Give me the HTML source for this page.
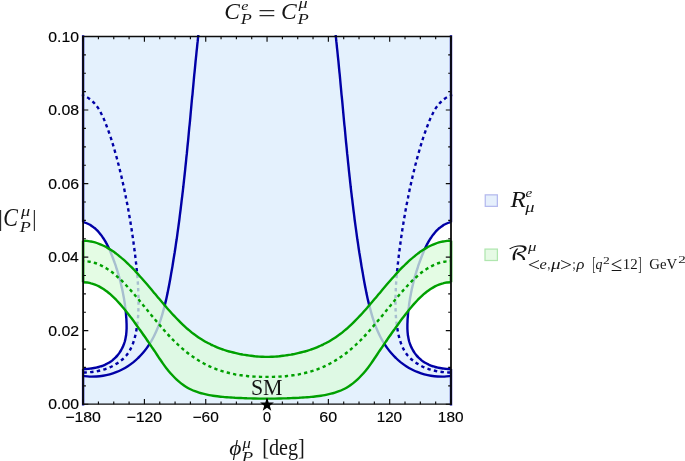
<!DOCTYPE html>
<html lang="en"><head><meta charset="utf-8"><title>Plot</title>
<style>html,body{margin:0;padding:0;background:#fff}body{width:685px;height:461px;overflow:hidden}</style></head>
<body>
<svg width="685" height="461" viewBox="0 0 685 461" style="display:block">
<rect width="685" height="461" fill="#fff"/>
<defs><clipPath id="cp"><rect x="81.6" y="35.0" width="370.9" height="370.7"/></clipPath></defs>
<rect x="83.1" y="36.5" width="367.9" height="367.7" fill="#e4f1fd"/>
<g clip-path="url(#cp)">
<path d="M83.0 222.0C83.5 222.2 85.1 222.6 86.1 223.0C87.1 223.4 88.1 223.8 89.0 224.3C90.0 224.8 90.9 225.4 91.7 225.9C92.6 226.5 93.4 227.2 94.2 227.8C95.1 228.5 95.8 229.2 96.6 229.9C97.3 230.6 98.1 231.4 98.8 232.2C99.5 233.0 100.1 233.8 100.8 234.6C101.4 235.4 102.0 236.3 102.6 237.2C103.2 238.0 103.8 238.9 104.4 239.8C104.9 240.7 105.5 241.6 106.0 242.6C106.5 243.5 107.0 244.4 107.5 245.4C108.0 246.3 108.4 247.3 108.9 248.3C109.3 249.2 109.8 250.2 110.2 251.2C110.6 252.2 111.0 253.2 111.4 254.2C111.8 255.2 112.2 256.2 112.6 257.2C113.0 258.2 113.4 259.2 113.7 260.2C114.1 261.2 114.5 262.2 114.8 263.2C115.2 264.3 115.5 265.3 115.9 266.3C116.2 267.3 116.5 268.3 116.8 269.3C117.2 270.3 117.5 271.3 117.8 272.4C118.1 273.4 118.4 274.4 118.7 275.4C119.0 276.4 119.3 277.4 119.6 278.5C119.8 279.5 120.1 280.5 120.4 281.5C120.6 282.5 120.9 283.6 121.1 284.6C121.4 285.6 121.6 286.7 121.8 287.7C122.1 288.7 122.3 289.7 122.5 290.8C122.7 291.8 122.9 292.8 123.1 293.9C123.3 294.9 123.5 296.0 123.7 297.0C123.9 298.0 124.1 299.1 124.2 300.1C124.4 301.2 124.6 302.2 124.7 303.3C124.9 304.3 125.0 305.4 125.1 306.4C125.3 307.5 125.4 308.5 125.5 309.6C125.7 310.7 125.8 311.7 125.9 312.8C126.0 313.9 126.1 314.9 126.1 316.0C126.2 317.1 126.3 318.2 126.4 319.2C126.4 320.3 126.5 321.4 126.5 322.5C126.6 323.5 126.6 324.6 126.6 325.7C126.6 326.8 126.6 327.8 126.6 328.9C126.5 330.0 126.5 331.0 126.4 332.1C126.3 333.2 126.2 334.2 126.1 335.3C125.9 336.3 125.7 337.4 125.5 338.4C125.3 339.4 125.1 340.4 124.8 341.5C124.5 342.5 124.2 343.5 123.8 344.5C123.4 345.5 123.0 346.4 122.6 347.4C122.1 348.3 121.6 349.3 121.1 350.2C120.6 351.1 120.0 352.0 119.4 352.9C118.8 353.7 118.2 354.6 117.5 355.4C116.8 356.2 116.1 357.0 115.4 357.7C114.6 358.4 113.9 359.1 113.0 359.8C112.2 360.5 111.4 361.1 110.5 361.7C109.6 362.3 108.7 362.8 107.8 363.3C106.8 363.9 105.9 364.3 104.9 364.8C103.9 365.2 102.9 365.6 101.9 366.0C100.9 366.3 99.9 366.7 98.8 367.0C97.8 367.3 96.7 367.5 95.7 367.7C94.6 368.0 93.5 368.2 92.5 368.3C91.4 368.5 90.3 368.6 89.3 368.7C88.2 368.8 87.2 368.9 86.1 369.0C85.1 369.0 83.5 369.0 83.0 369.0Z" fill="#fff"/>
<path d="M451.0 222.0C450.5 222.2 448.9 222.6 447.9 223.0C446.9 223.4 445.9 223.8 445.0 224.3C444.0 224.8 443.1 225.4 442.3 225.9C441.4 226.5 440.6 227.2 439.8 227.8C438.9 228.5 438.2 229.2 437.4 229.9C436.7 230.6 435.9 231.4 435.2 232.2C434.5 233.0 433.9 233.8 433.2 234.6C432.6 235.4 432.0 236.3 431.4 237.2C430.8 238.0 430.2 238.9 429.6 239.8C429.1 240.7 428.5 241.6 428.0 242.6C427.5 243.5 427.0 244.4 426.5 245.4C426.0 246.3 425.6 247.3 425.1 248.3C424.7 249.2 424.2 250.2 423.8 251.2C423.4 252.2 423.0 253.2 422.6 254.2C422.2 255.2 421.8 256.2 421.4 257.2C421.0 258.2 420.6 259.2 420.3 260.2C419.9 261.2 419.5 262.2 419.2 263.2C418.8 264.3 418.5 265.3 418.1 266.3C417.8 267.3 417.5 268.3 417.2 269.3C416.8 270.3 416.5 271.3 416.2 272.4C415.9 273.4 415.6 274.4 415.3 275.4C415.0 276.4 414.7 277.4 414.4 278.5C414.2 279.5 413.9 280.5 413.6 281.5C413.4 282.5 413.1 283.6 412.9 284.6C412.6 285.6 412.4 286.7 412.2 287.7C411.9 288.7 411.7 289.7 411.5 290.8C411.3 291.8 411.1 292.8 410.9 293.9C410.7 294.9 410.5 296.0 410.3 297.0C410.1 298.0 409.9 299.1 409.8 300.1C409.6 301.2 409.4 302.2 409.3 303.3C409.1 304.3 409.0 305.4 408.9 306.4C408.7 307.5 408.6 308.5 408.5 309.6C408.3 310.7 408.2 311.7 408.1 312.8C408.0 313.9 407.9 314.9 407.9 316.0C407.8 317.1 407.7 318.2 407.6 319.2C407.6 320.3 407.5 321.4 407.5 322.5C407.4 323.5 407.4 324.6 407.4 325.7C407.4 326.8 407.4 327.8 407.4 328.9C407.5 330.0 407.5 331.0 407.6 332.1C407.7 333.2 407.8 334.2 407.9 335.3C408.1 336.3 408.3 337.4 408.5 338.4C408.7 339.4 408.9 340.4 409.2 341.5C409.5 342.5 409.8 343.5 410.2 344.5C410.6 345.5 411.0 346.4 411.4 347.4C411.9 348.3 412.4 349.3 412.9 350.2C413.4 351.1 414.0 352.0 414.6 352.9C415.2 353.7 415.8 354.6 416.5 355.4C417.2 356.2 417.9 357.0 418.6 357.7C419.4 358.4 420.1 359.1 421.0 359.8C421.8 360.5 422.6 361.1 423.5 361.7C424.4 362.3 425.3 362.8 426.2 363.3C427.2 363.9 428.1 364.3 429.1 364.8C430.1 365.2 431.1 365.6 432.1 366.0C433.1 366.3 434.1 366.7 435.2 367.0C436.2 367.3 437.3 367.5 438.3 367.7C439.4 368.0 440.5 368.2 441.5 368.3C442.6 368.5 443.7 368.6 444.7 368.7C445.8 368.8 446.8 368.9 447.9 369.0C448.9 369.0 450.5 369.0 451.0 369.0Z" fill="#fff"/>
<path d="M83.0 222.0C83.5 222.2 85.1 222.6 86.1 223.0C87.1 223.4 88.1 223.8 89.0 224.3C90.0 224.8 90.9 225.4 91.7 225.9C92.6 226.5 93.4 227.2 94.2 227.8C95.1 228.5 95.8 229.2 96.6 229.9C97.3 230.6 98.1 231.4 98.8 232.2C99.5 233.0 100.1 233.8 100.8 234.6C101.4 235.4 102.0 236.3 102.6 237.2C103.2 238.0 103.8 238.9 104.4 239.8C104.9 240.7 105.5 241.6 106.0 242.6C106.5 243.5 107.0 244.4 107.5 245.4C108.0 246.3 108.4 247.3 108.9 248.3C109.3 249.2 109.8 250.2 110.2 251.2C110.6 252.2 111.0 253.2 111.4 254.2C111.8 255.2 112.2 256.2 112.6 257.2C113.0 258.2 113.4 259.2 113.7 260.2C114.1 261.2 114.5 262.2 114.8 263.2C115.2 264.3 115.5 265.3 115.9 266.3C116.2 267.3 116.5 268.3 116.8 269.3C117.2 270.3 117.5 271.3 117.8 272.4C118.1 273.4 118.4 274.4 118.7 275.4C119.0 276.4 119.3 277.4 119.6 278.5C119.8 279.5 120.1 280.5 120.4 281.5C120.6 282.5 120.9 283.6 121.1 284.6C121.4 285.6 121.6 286.7 121.8 287.7C122.1 288.7 122.3 289.7 122.5 290.8C122.7 291.8 122.9 292.8 123.1 293.9C123.3 294.9 123.5 296.0 123.7 297.0C123.9 298.0 124.1 299.1 124.2 300.1C124.4 301.2 124.6 302.2 124.7 303.3C124.9 304.3 125.0 305.4 125.1 306.4C125.3 307.5 125.4 308.5 125.5 309.6C125.7 310.7 125.8 311.7 125.9 312.8C126.0 313.9 126.1 314.9 126.1 316.0C126.2 317.1 126.3 318.2 126.4 319.2C126.4 320.3 126.5 321.4 126.5 322.5C126.6 323.5 126.6 324.6 126.6 325.7C126.6 326.8 126.6 327.8 126.6 328.9C126.5 330.0 126.5 331.0 126.4 332.1C126.3 333.2 126.2 334.2 126.1 335.3C125.9 336.3 125.7 337.4 125.5 338.4C125.3 339.4 125.1 340.4 124.8 341.5C124.5 342.5 124.2 343.5 123.8 344.5C123.4 345.5 123.0 346.4 122.6 347.4C122.1 348.3 121.6 349.3 121.1 350.2C120.6 351.1 120.0 352.0 119.4 352.9C118.8 353.7 118.2 354.6 117.5 355.4C116.8 356.2 116.1 357.0 115.4 357.7C114.6 358.4 113.9 359.1 113.0 359.8C112.2 360.5 111.4 361.1 110.5 361.7C109.6 362.3 108.7 362.8 107.8 363.3C106.8 363.9 105.9 364.3 104.9 364.8C103.9 365.2 102.9 365.6 101.9 366.0C100.9 366.3 99.9 366.7 98.8 367.0C97.8 367.3 96.7 367.5 95.7 367.7C94.6 368.0 93.5 368.2 92.5 368.3C91.4 368.5 90.3 368.6 89.3 368.7C88.2 368.8 87.2 368.9 86.1 369.0C85.1 369.0 83.5 369.0 83.0 369.0" fill="none" stroke="#0000a6" stroke-width="2.4"/>
<path d="M451.0 222.0C450.5 222.2 448.9 222.6 447.9 223.0C446.9 223.4 445.9 223.8 445.0 224.3C444.0 224.8 443.1 225.4 442.3 225.9C441.4 226.5 440.6 227.2 439.8 227.8C438.9 228.5 438.2 229.2 437.4 229.9C436.7 230.6 435.9 231.4 435.2 232.2C434.5 233.0 433.9 233.8 433.2 234.6C432.6 235.4 432.0 236.3 431.4 237.2C430.8 238.0 430.2 238.9 429.6 239.8C429.1 240.7 428.5 241.6 428.0 242.6C427.5 243.5 427.0 244.4 426.5 245.4C426.0 246.3 425.6 247.3 425.1 248.3C424.7 249.2 424.2 250.2 423.8 251.2C423.4 252.2 423.0 253.2 422.6 254.2C422.2 255.2 421.8 256.2 421.4 257.2C421.0 258.2 420.6 259.2 420.3 260.2C419.9 261.2 419.5 262.2 419.2 263.2C418.8 264.3 418.5 265.3 418.1 266.3C417.8 267.3 417.5 268.3 417.2 269.3C416.8 270.3 416.5 271.3 416.2 272.4C415.9 273.4 415.6 274.4 415.3 275.4C415.0 276.4 414.7 277.4 414.4 278.5C414.2 279.5 413.9 280.5 413.6 281.5C413.4 282.5 413.1 283.6 412.9 284.6C412.6 285.6 412.4 286.7 412.2 287.7C411.9 288.7 411.7 289.7 411.5 290.8C411.3 291.8 411.1 292.8 410.9 293.9C410.7 294.9 410.5 296.0 410.3 297.0C410.1 298.0 409.9 299.1 409.8 300.1C409.6 301.2 409.4 302.2 409.3 303.3C409.1 304.3 409.0 305.4 408.9 306.4C408.7 307.5 408.6 308.5 408.5 309.6C408.3 310.7 408.2 311.7 408.1 312.8C408.0 313.9 407.9 314.9 407.9 316.0C407.8 317.1 407.7 318.2 407.6 319.2C407.6 320.3 407.5 321.4 407.5 322.5C407.4 323.5 407.4 324.6 407.4 325.7C407.4 326.8 407.4 327.8 407.4 328.9C407.5 330.0 407.5 331.0 407.6 332.1C407.7 333.2 407.8 334.2 407.9 335.3C408.1 336.3 408.3 337.4 408.5 338.4C408.7 339.4 408.9 340.4 409.2 341.5C409.5 342.5 409.8 343.5 410.2 344.5C410.6 345.5 411.0 346.4 411.4 347.4C411.9 348.3 412.4 349.3 412.9 350.2C413.4 351.1 414.0 352.0 414.6 352.9C415.2 353.7 415.8 354.6 416.5 355.4C417.2 356.2 417.9 357.0 418.6 357.7C419.4 358.4 420.1 359.1 421.0 359.8C421.8 360.5 422.6 361.1 423.5 361.7C424.4 362.3 425.3 362.8 426.2 363.3C427.2 363.9 428.1 364.3 429.1 364.8C430.1 365.2 431.1 365.6 432.1 366.0C433.1 366.3 434.1 366.7 435.2 367.0C436.2 367.3 437.3 367.5 438.3 367.7C439.4 368.0 440.5 368.2 441.5 368.3C442.6 368.5 443.7 368.6 444.7 368.7C445.8 368.8 446.8 368.9 447.9 369.0C448.9 369.0 450.5 369.0 451.0 369.0" fill="none" stroke="#0000a6" stroke-width="2.4"/>
<path d="M198.4 34.6C198.2 35.7 197.9 39.0 197.7 41.2C197.4 43.4 197.2 45.6 197.0 47.8C196.7 50.1 196.5 52.3 196.3 54.5C196.1 56.7 195.8 58.9 195.6 61.1C195.4 63.3 195.2 65.5 195.0 67.7C194.8 69.9 194.6 72.2 194.3 74.4C194.1 76.6 193.9 78.8 193.7 81.0C193.5 83.2 193.3 85.4 193.1 87.6C192.9 89.8 192.7 92.1 192.5 94.3C192.2 96.5 192.0 98.7 191.8 100.9C191.6 103.1 191.4 105.3 191.2 107.5C191.0 109.7 190.8 111.9 190.6 114.2C190.4 116.4 190.2 118.6 190.0 120.8C189.8 123.0 189.6 125.2 189.3 127.4C189.1 129.6 188.9 131.8 188.7 134.0C188.5 136.2 188.3 138.5 188.1 140.7C187.9 142.9 187.6 145.1 187.4 147.3C187.2 149.5 187.0 151.7 186.8 153.9C186.5 156.1 186.3 158.3 186.1 160.5C185.9 162.7 185.6 164.9 185.4 167.1C185.2 169.4 185.0 171.6 184.7 173.8C184.5 176.0 184.2 178.2 184.0 180.4C183.8 182.6 183.5 184.8 183.3 187.0C183.0 189.2 182.8 191.4 182.5 193.6C182.3 195.8 182.0 198.0 181.7 200.2C181.5 202.4 181.2 204.6 180.9 206.8C180.7 209.0 180.4 211.2 180.1 213.4C179.8 215.6 179.6 217.8 179.3 220.0C179.0 222.2 178.7 224.4 178.4 226.6C178.1 228.8 177.8 231.0 177.5 233.2C177.2 235.4 176.9 237.6 176.6 239.8C176.2 242.0 175.9 244.2 175.6 246.4C175.3 248.6 174.9 250.8 174.6 253.0C174.2 255.1 173.9 257.3 173.5 259.5C173.2 261.7 172.8 263.9 172.5 266.1C172.1 268.3 171.7 270.5 171.3 272.7C171.0 274.9 170.6 277.1 170.2 279.2C169.8 281.4 169.4 283.6 169.0 285.8C168.6 288.0 168.1 290.2 167.7 292.4C167.2 294.5 166.8 296.7 166.3 298.9C165.8 301.0 165.3 303.2 164.7 305.4C164.2 307.5 163.6 309.7 163.0 311.8C162.4 314.0 161.8 316.1 161.1 318.3C160.4 320.4 159.7 322.5 159.0 324.6C158.2 326.7 157.4 328.7 156.5 330.8C155.6 332.8 154.7 334.8 153.7 336.8C152.7 338.8 151.6 340.7 150.4 342.6C149.3 344.5 148.0 346.3 146.7 348.1C145.4 349.9 144.1 351.6 142.6 353.3C141.2 354.9 139.7 356.5 138.1 358.0C136.5 359.6 134.9 361.0 133.2 362.4C131.5 363.7 129.7 365.0 127.8 366.2C126.0 367.4 124.1 368.5 122.1 369.5C120.1 370.5 118.1 371.4 116.1 372.2C114.0 373.0 111.9 373.7 109.7 374.3C107.6 374.9 105.4 375.4 103.1 375.7C100.9 376.1 98.7 376.4 96.4 376.5C94.2 376.6 91.9 376.7 89.6 376.6C87.3 376.5 83.9 376.0 82.7 375.9" fill="none" stroke="#0000a6" stroke-width="2.4"/>
<path d="M335.6 34.6C335.8 35.7 336.1 39.0 336.3 41.2C336.6 43.4 336.8 45.6 337.0 47.8C337.3 50.1 337.5 52.3 337.7 54.5C337.9 56.7 338.2 58.9 338.4 61.1C338.6 63.3 338.8 65.5 339.0 67.7C339.2 69.9 339.4 72.2 339.7 74.4C339.9 76.6 340.1 78.8 340.3 81.0C340.5 83.2 340.7 85.4 340.9 87.6C341.1 89.8 341.3 92.1 341.5 94.3C341.8 96.5 342.0 98.7 342.2 100.9C342.4 103.1 342.6 105.3 342.8 107.5C343.0 109.7 343.2 111.9 343.4 114.2C343.6 116.4 343.8 118.6 344.0 120.8C344.2 123.0 344.4 125.2 344.7 127.4C344.9 129.6 345.1 131.8 345.3 134.0C345.5 136.2 345.7 138.5 345.9 140.7C346.1 142.9 346.4 145.1 346.6 147.3C346.8 149.5 347.0 151.7 347.2 153.9C347.5 156.1 347.7 158.3 347.9 160.5C348.1 162.7 348.4 164.9 348.6 167.1C348.8 169.4 349.0 171.6 349.3 173.8C349.5 176.0 349.8 178.2 350.0 180.4C350.2 182.6 350.5 184.8 350.7 187.0C351.0 189.2 351.2 191.4 351.5 193.6C351.7 195.8 352.0 198.0 352.3 200.2C352.5 202.4 352.8 204.6 353.1 206.8C353.3 209.0 353.6 211.2 353.9 213.4C354.2 215.6 354.4 217.8 354.7 220.0C355.0 222.2 355.3 224.4 355.6 226.6C355.9 228.8 356.2 231.0 356.5 233.2C356.8 235.4 357.1 237.6 357.4 239.8C357.8 242.0 358.1 244.2 358.4 246.4C358.7 248.6 359.1 250.8 359.4 253.0C359.8 255.1 360.1 257.3 360.5 259.5C360.8 261.7 361.2 263.9 361.5 266.1C361.9 268.3 362.3 270.5 362.7 272.7C363.0 274.9 363.4 277.1 363.8 279.2C364.2 281.4 364.6 283.6 365.0 285.8C365.4 288.0 365.9 290.2 366.3 292.4C366.8 294.5 367.2 296.7 367.7 298.9C368.2 301.0 368.7 303.2 369.3 305.4C369.8 307.5 370.4 309.7 371.0 311.8C371.6 314.0 372.2 316.1 372.9 318.3C373.6 320.4 374.3 322.5 375.0 324.6C375.8 326.7 376.6 328.7 377.5 330.8C378.4 332.8 379.3 334.8 380.3 336.8C381.3 338.8 382.4 340.7 383.6 342.6C384.7 344.5 386.0 346.3 387.3 348.1C388.6 349.9 389.9 351.6 391.4 353.3C392.8 354.9 394.3 356.5 395.9 358.0C397.5 359.6 399.1 361.0 400.8 362.4C402.5 363.7 404.3 365.0 406.2 366.2C408.0 367.4 409.9 368.5 411.9 369.5C413.9 370.5 415.9 371.4 417.9 372.2C420.0 373.0 422.1 373.7 424.3 374.3C426.4 374.9 428.6 375.4 430.9 375.7C433.1 376.1 435.3 376.4 437.6 376.5C439.8 376.6 442.1 376.7 444.4 376.6C446.7 376.5 450.1 376.0 451.3 375.9" fill="none" stroke="#0000a6" stroke-width="2.4"/>
<path d="M81.6 94.9C82.2 95.1 84.3 95.9 85.6 96.5C86.8 97.1 88.0 97.8 89.1 98.6C90.3 99.3 91.3 100.2 92.3 101.1C93.3 102.0 94.2 102.9 95.1 104.0C95.9 105.0 96.7 106.0 97.5 107.1C98.3 108.2 99.0 109.4 99.7 110.6C100.4 111.8 101.0 113.0 101.6 114.2C102.3 115.5 102.8 116.7 103.4 118.0C104.0 119.3 104.5 120.6 105.0 121.9C105.5 123.2 106.0 124.5 106.5 125.8C107.0 127.1 107.5 128.4 108.0 129.7C108.5 131.0 108.9 132.3 109.4 133.6C109.8 134.9 110.3 136.2 110.7 137.5C111.1 138.8 111.6 140.2 112.0 141.5C112.4 142.8 112.8 144.1 113.2 145.4C113.6 146.7 114.0 148.0 114.4 149.4C114.7 150.7 115.1 152.0 115.5 153.3C115.9 154.6 116.2 155.9 116.6 157.3C116.9 158.6 117.3 159.9 117.6 161.2C118.0 162.6 118.3 163.9 118.7 165.2C119.0 166.5 119.3 167.9 119.7 169.2C120.0 170.5 120.3 171.9 120.6 173.2C121.0 174.5 121.3 175.9 121.6 177.2C121.9 178.6 122.2 179.9 122.5 181.2C122.8 182.6 123.1 183.9 123.4 185.3C123.7 186.6 124.0 188.0 124.3 189.3C124.6 190.7 124.8 192.0 125.1 193.3C125.4 194.7 125.7 196.0 125.9 197.4C126.2 198.8 126.5 200.1 126.7 201.5C127.0 202.8 127.3 204.2 127.5 205.5C127.8 206.9 128.0 208.2 128.3 209.6C128.5 210.9 128.8 212.3 129.0 213.7C129.2 215.0 129.5 216.4 129.7 217.7C129.9 219.1 130.2 220.5 130.4 221.8C130.6 223.2 130.8 224.5 131.0 225.9C131.3 227.3 131.5 228.6 131.7 230.0C131.9 231.4 132.1 232.7 132.3 234.1C132.5 235.5 132.7 236.8 132.9 238.2C133.1 239.5 133.3 240.9 133.5 242.3C133.6 243.6 133.8 245.0 134.0 246.4C134.2 247.7 134.4 249.1 134.5 250.5C134.7 251.8 134.9 253.2 135.1 254.6C135.2 255.9 135.4 257.3 135.6 258.7C135.7 260.0 135.9 261.4 136.0 262.7C136.2 264.1 136.3 265.5 136.5 266.8C136.6 268.2 136.7 269.6 136.9 270.9C137.0 272.3 137.1 273.7 137.2 275.0C137.4 276.4 137.5 277.8 137.6 279.1C137.7 280.5 137.8 281.9 137.9 283.3C137.9 284.6 138.0 286.0 138.1 287.4C138.2 288.7 138.2 290.1 138.3 291.5C138.4 292.9 138.4 294.2 138.4 295.6C138.5 297.0 138.5 298.4 138.5 299.8C138.5 301.1 138.5 302.5 138.5 303.9C138.5 305.3 138.5 306.7 138.5 308.0C138.4 309.4 138.4 310.8 138.3 312.2C138.3 313.6 138.2 314.9 138.1 316.3C138.0 317.7 137.9 319.1 137.7 320.4C137.6 321.8 137.4 323.2 137.3 324.5C137.1 325.9 136.9 327.3 136.7 328.6C136.4 330.0 136.2 331.4 135.9 332.7C135.6 334.1 135.4 335.4 135.0 336.7C134.7 338.1 134.3 339.4 133.9 340.7C133.5 342.0 133.1 343.3 132.6 344.6C132.1 345.9 131.5 347.1 130.9 348.3C130.3 349.6 129.7 350.7 128.9 351.9C128.2 353.0 127.4 354.1 126.5 355.2C125.6 356.2 124.7 357.2 123.7 358.2C122.7 359.2 121.6 360.1 120.5 360.9C119.4 361.8 118.3 362.6 117.1 363.4C115.9 364.1 114.7 364.8 113.5 365.5C112.3 366.2 111.0 366.8 109.8 367.3C108.5 367.9 107.2 368.4 105.9 368.8C104.7 369.3 103.3 369.7 102.0 370.0C100.7 370.4 99.4 370.7 98.0 371.0C96.7 371.2 95.3 371.5 94.0 371.7C92.6 371.9 91.2 372.0 89.9 372.2C88.5 372.3 87.1 372.4 85.7 372.5C84.4 372.5 82.3 372.6 81.6 372.6" fill="none" stroke="#0000a6" stroke-width="2.4" stroke-dasharray="3.4 3.3" stroke-dashoffset="0.7"/>
<path d="M452.4 94.9C451.8 95.1 449.7 95.9 448.4 96.5C447.2 97.1 446.0 97.8 444.9 98.6C443.7 99.3 442.7 100.2 441.7 101.1C440.7 102.0 439.8 102.9 438.9 104.0C438.1 105.0 437.3 106.0 436.5 107.1C435.7 108.2 435.0 109.4 434.3 110.6C433.6 111.8 433.0 113.0 432.4 114.2C431.7 115.5 431.2 116.7 430.6 118.0C430.0 119.3 429.5 120.6 429.0 121.9C428.5 123.2 428.0 124.5 427.5 125.8C427.0 127.1 426.5 128.4 426.0 129.7C425.5 131.0 425.1 132.3 424.6 133.6C424.2 134.9 423.7 136.2 423.3 137.5C422.9 138.8 422.4 140.2 422.0 141.5C421.6 142.8 421.2 144.1 420.8 145.4C420.4 146.7 420.0 148.0 419.6 149.4C419.3 150.7 418.9 152.0 418.5 153.3C418.1 154.6 417.8 155.9 417.4 157.3C417.1 158.6 416.7 159.9 416.4 161.2C416.0 162.6 415.7 163.9 415.3 165.2C415.0 166.5 414.7 167.9 414.3 169.2C414.0 170.5 413.7 171.9 413.4 173.2C413.0 174.5 412.7 175.9 412.4 177.2C412.1 178.6 411.8 179.9 411.5 181.2C411.2 182.6 410.9 183.9 410.6 185.3C410.3 186.6 410.0 188.0 409.7 189.3C409.4 190.7 409.2 192.0 408.9 193.3C408.6 194.7 408.3 196.0 408.1 197.4C407.8 198.8 407.5 200.1 407.3 201.5C407.0 202.8 406.7 204.2 406.5 205.5C406.2 206.9 406.0 208.2 405.7 209.6C405.5 210.9 405.2 212.3 405.0 213.7C404.8 215.0 404.5 216.4 404.3 217.7C404.1 219.1 403.8 220.5 403.6 221.8C403.4 223.2 403.2 224.5 403.0 225.9C402.7 227.3 402.5 228.6 402.3 230.0C402.1 231.4 401.9 232.7 401.7 234.1C401.5 235.5 401.3 236.8 401.1 238.2C400.9 239.5 400.7 240.9 400.5 242.3C400.4 243.6 400.2 245.0 400.0 246.4C399.8 247.7 399.6 249.1 399.5 250.5C399.3 251.8 399.1 253.2 398.9 254.6C398.8 255.9 398.6 257.3 398.4 258.7C398.3 260.0 398.1 261.4 398.0 262.7C397.8 264.1 397.7 265.5 397.5 266.8C397.4 268.2 397.3 269.6 397.1 270.9C397.0 272.3 396.9 273.7 396.8 275.0C396.6 276.4 396.5 277.8 396.4 279.1C396.3 280.5 396.2 281.9 396.1 283.3C396.1 284.6 396.0 286.0 395.9 287.4C395.8 288.7 395.8 290.1 395.7 291.5C395.6 292.9 395.6 294.2 395.6 295.6C395.5 297.0 395.5 298.4 395.5 299.8C395.5 301.1 395.5 302.5 395.5 303.9C395.5 305.3 395.5 306.7 395.5 308.0C395.6 309.4 395.6 310.8 395.7 312.2C395.7 313.6 395.8 314.9 395.9 316.3C396.0 317.7 396.1 319.1 396.3 320.4C396.4 321.8 396.6 323.2 396.7 324.5C396.9 325.9 397.1 327.3 397.3 328.6C397.6 330.0 397.8 331.4 398.1 332.7C398.4 334.1 398.6 335.4 399.0 336.7C399.3 338.1 399.7 339.4 400.1 340.7C400.5 342.0 400.9 343.3 401.4 344.6C401.9 345.9 402.5 347.1 403.1 348.3C403.7 349.6 404.3 350.7 405.1 351.9C405.8 353.0 406.6 354.1 407.5 355.2C408.4 356.2 409.3 357.2 410.3 358.2C411.3 359.2 412.4 360.1 413.5 360.9C414.6 361.8 415.7 362.6 416.9 363.4C418.1 364.1 419.3 364.8 420.5 365.5C421.7 366.2 423.0 366.8 424.2 367.3C425.5 367.9 426.8 368.4 428.1 368.8C429.3 369.3 430.7 369.7 432.0 370.0C433.3 370.4 434.6 370.7 436.0 371.0C437.3 371.2 438.7 371.5 440.0 371.7C441.4 371.9 442.8 372.0 444.1 372.2C445.5 372.3 446.9 372.4 448.3 372.5C449.6 372.5 451.7 372.6 452.4 372.6" fill="none" stroke="#0000a6" stroke-width="2.4" stroke-dasharray="3.4 3.3" stroke-dashoffset="0.7"/>
<path d="M83.0 240.8C83.7 240.8 85.7 240.8 87.0 240.9C88.3 241.1 89.7 241.2 91.0 241.5C92.3 241.8 93.7 242.1 95.0 242.4C96.3 242.8 97.7 243.3 99.0 243.8C100.3 244.3 101.7 244.9 103.0 245.5C104.3 246.1 105.7 246.8 107.0 247.6C108.3 248.3 109.7 249.1 111.0 250.0C112.3 250.9 113.7 251.8 115.0 252.7C116.3 253.7 117.7 254.7 119.0 255.8C120.3 256.9 121.7 258.0 123.0 259.2C124.3 260.3 125.7 261.5 127.0 262.8C128.3 264.1 129.7 265.4 131.0 266.7C132.3 268.0 133.7 269.4 135.0 270.8C136.3 272.2 137.7 273.7 139.0 275.2C140.3 276.7 141.7 278.2 143.0 279.7C144.3 281.2 145.7 282.8 147.0 284.3C148.3 285.9 149.7 287.5 151.0 289.0C152.3 290.6 153.7 292.2 155.0 293.8C156.3 295.4 157.7 297.0 159.0 298.6C160.3 300.2 161.7 301.8 163.0 303.3C164.3 304.9 165.7 306.4 167.0 308.0C168.3 309.5 169.7 311.0 171.0 312.5C172.3 314.0 173.7 315.4 175.0 316.8C176.3 318.2 177.7 319.6 179.0 320.9C180.3 322.3 181.7 323.6 183.0 324.8C184.3 326.1 185.7 327.3 187.0 328.5C188.3 329.6 189.7 330.7 191.0 331.8C192.3 332.9 193.7 333.9 195.0 334.9C196.3 335.9 197.7 336.8 199.0 337.7C200.3 338.6 201.7 339.4 203.0 340.2C204.3 341.0 205.7 341.8 207.0 342.5C208.3 343.2 209.7 343.9 211.0 344.6C212.3 345.2 213.7 345.8 215.0 346.4C216.3 347.0 217.7 347.6 219.0 348.1C220.3 348.6 221.7 349.1 223.0 349.5C224.3 350.0 225.7 350.4 227.0 350.8C228.3 351.2 229.7 351.6 231.0 351.9C232.3 352.3 233.7 352.6 235.0 352.9C236.3 353.2 237.7 353.5 239.0 353.8C240.3 354.1 241.7 354.3 243.0 354.6C244.3 354.8 245.7 355.0 247.0 355.2C248.3 355.5 249.7 355.6 251.0 355.8C252.3 356.0 253.7 356.1 255.0 356.3C256.3 356.4 257.7 356.5 259.0 356.6C260.3 356.7 261.7 356.8 263.0 356.8C264.3 356.8 265.7 356.9 267.0 356.9C268.3 356.9 269.7 356.8 271.0 356.8C272.3 356.8 273.7 356.7 275.0 356.6C276.3 356.5 277.7 356.4 279.0 356.3C280.3 356.1 281.7 356.0 283.0 355.8C284.3 355.6 285.7 355.5 287.0 355.2C288.3 355.0 289.7 354.8 291.0 354.6C292.3 354.3 293.7 354.1 295.0 353.8C296.3 353.5 297.7 353.2 299.0 352.9C300.3 352.6 301.7 352.3 303.0 351.9C304.3 351.6 305.7 351.2 307.0 350.8C308.3 350.4 309.7 350.0 311.0 349.5C312.3 349.1 313.7 348.6 315.0 348.1C316.3 347.6 317.7 347.0 319.0 346.4C320.3 345.8 321.7 345.2 323.0 344.6C324.3 343.9 325.7 343.2 327.0 342.5C328.3 341.8 329.7 341.0 331.0 340.2C332.3 339.4 333.7 338.6 335.0 337.7C336.3 336.8 337.7 335.9 339.0 334.9C340.3 333.9 341.7 332.9 343.0 331.8C344.3 330.7 345.7 329.6 347.0 328.5C348.3 327.3 349.7 326.1 351.0 324.8C352.3 323.6 353.7 322.3 355.0 320.9C356.3 319.6 357.7 318.2 359.0 316.8C360.3 315.4 361.7 314.0 363.0 312.5C364.3 311.0 365.7 309.5 367.0 308.0C368.3 306.4 369.7 304.9 371.0 303.3C372.3 301.8 373.7 300.2 375.0 298.6C376.3 297.0 377.7 295.4 379.0 293.8C380.3 292.2 381.7 290.6 383.0 289.0C384.3 287.5 385.7 285.9 387.0 284.3C388.3 282.8 389.7 281.2 391.0 279.7C392.3 278.2 393.7 276.7 395.0 275.2C396.3 273.7 397.7 272.2 399.0 270.8C400.3 269.4 401.7 268.0 403.0 266.7C404.3 265.4 405.7 264.1 407.0 262.8C408.3 261.5 409.7 260.3 411.0 259.2C412.3 258.0 413.7 256.9 415.0 255.8C416.3 254.7 417.7 253.7 419.0 252.7C420.3 251.8 421.7 250.9 423.0 250.0C424.3 249.1 425.7 248.3 427.0 247.6C428.3 246.8 429.7 246.1 431.0 245.5C432.3 244.9 433.7 244.3 435.0 243.8C436.3 243.3 437.7 242.8 439.0 242.4C440.3 242.1 441.7 241.8 443.0 241.5C444.3 241.2 445.7 241.1 447.0 240.9C448.3 240.8 450.3 240.8 451.0 240.8L451.0 282.3C450.3 282.3 448.3 282.3 447.0 282.5C445.7 282.7 444.3 282.9 443.0 283.3C441.7 283.6 440.3 284.1 439.0 284.6C437.7 285.1 436.3 285.7 435.0 286.4C433.7 287.1 432.3 287.9 431.0 288.7C429.7 289.6 428.3 290.5 427.0 291.5C425.7 292.5 424.3 293.7 423.0 294.8C421.7 296.0 420.3 297.3 419.0 298.6C417.7 300.0 416.3 301.4 415.0 302.9C413.7 304.3 412.3 305.9 411.0 307.5C409.7 309.0 408.3 310.7 407.0 312.4C405.7 314.1 404.3 315.8 403.0 317.6C401.7 319.3 400.3 321.2 399.0 323.0C397.7 324.8 396.3 326.7 395.0 328.6C393.7 330.4 392.3 332.3 391.0 334.2C389.7 336.1 388.3 338.0 387.0 340.0C385.7 341.9 384.3 343.8 383.0 345.8C381.7 347.8 380.3 349.7 379.0 351.7C377.7 353.7 376.3 355.8 375.0 357.8C373.7 359.7 372.3 361.8 371.0 363.6C369.7 365.5 368.3 367.3 367.0 369.0C365.7 370.7 364.3 372.3 363.0 373.8C361.7 375.3 360.3 376.7 359.0 378.0C357.7 379.4 356.3 380.6 355.0 381.7C353.7 382.8 352.3 383.9 351.0 384.8C349.7 385.8 348.3 386.6 347.0 387.4C345.7 388.2 344.3 388.9 343.0 389.5C341.7 390.1 340.3 390.7 339.0 391.2C337.7 391.7 336.3 392.2 335.0 392.6C333.7 393.0 332.3 393.4 331.0 393.7C329.7 394.0 328.3 394.3 327.0 394.6C325.7 394.9 324.3 395.2 323.0 395.4C321.7 395.6 320.3 395.8 319.0 396.0C317.7 396.2 316.3 396.4 315.0 396.5C313.7 396.7 312.3 396.8 311.0 396.9C309.7 397.1 308.3 397.2 307.0 397.3C305.7 397.4 304.3 397.4 303.0 397.5C301.7 397.6 300.3 397.7 299.0 397.8C297.7 397.8 296.3 397.9 295.0 398.0C293.7 398.0 292.3 398.1 291.0 398.1C289.7 398.2 288.3 398.2 287.0 398.3C285.7 398.3 284.3 398.4 283.0 398.4C281.7 398.4 280.3 398.5 279.0 398.5C277.7 398.5 276.3 398.5 275.0 398.6C273.7 398.6 272.3 398.6 271.0 398.6C269.7 398.6 268.3 398.6 267.0 398.6C265.7 398.6 264.3 398.6 263.0 398.6C261.7 398.6 260.3 398.6 259.0 398.6C257.7 398.5 256.3 398.5 255.0 398.5C253.7 398.5 252.3 398.4 251.0 398.4C249.7 398.4 248.3 398.3 247.0 398.3C245.7 398.2 244.3 398.2 243.0 398.1C241.7 398.1 240.3 398.0 239.0 398.0C237.7 397.9 236.3 397.8 235.0 397.8C233.7 397.7 232.3 397.6 231.0 397.5C229.7 397.4 228.3 397.4 227.0 397.3C225.7 397.2 224.3 397.1 223.0 396.9C221.7 396.8 220.3 396.7 219.0 396.5C217.7 396.4 216.3 396.2 215.0 396.0C213.7 395.8 212.3 395.6 211.0 395.4C209.7 395.2 208.3 394.9 207.0 394.6C205.7 394.3 204.3 394.0 203.0 393.7C201.7 393.4 200.3 393.0 199.0 392.6C197.7 392.2 196.3 391.7 195.0 391.2C193.7 390.7 192.3 390.1 191.0 389.5C189.7 388.9 188.3 388.2 187.0 387.4C185.7 386.6 184.3 385.8 183.0 384.8C181.7 383.9 180.3 382.8 179.0 381.7C177.7 380.6 176.3 379.4 175.0 378.0C173.7 376.7 172.3 375.3 171.0 373.8C169.7 372.3 168.3 370.7 167.0 369.0C165.7 367.3 164.3 365.5 163.0 363.6C161.7 361.8 160.3 359.7 159.0 357.8C157.7 355.8 156.3 353.7 155.0 351.7C153.7 349.7 152.3 347.8 151.0 345.8C149.7 343.8 148.3 341.9 147.0 340.0C145.7 338.0 144.3 336.1 143.0 334.2C141.7 332.3 140.3 330.4 139.0 328.6C137.7 326.7 136.3 324.8 135.0 323.0C133.7 321.2 132.3 319.3 131.0 317.6C129.7 315.8 128.3 314.1 127.0 312.4C125.7 310.7 124.3 309.0 123.0 307.5C121.7 305.9 120.3 304.3 119.0 302.9C117.7 301.4 116.3 300.0 115.0 298.6C113.7 297.3 112.3 296.0 111.0 294.8C109.7 293.7 108.3 292.5 107.0 291.5C105.7 290.5 104.3 289.6 103.0 288.7C101.7 287.9 100.3 287.1 99.0 286.4C97.7 285.7 96.3 285.1 95.0 284.6C93.7 284.1 92.3 283.6 91.0 283.3C89.7 282.9 88.3 282.7 87.0 282.5C85.7 282.3 83.7 282.3 83.0 282.3Z" fill="#dcfbdc" fill-opacity="0.76"/>
<path d="M83.0 240.8C83.7 240.8 85.7 240.8 87.0 240.9C88.3 241.1 89.7 241.2 91.0 241.5C92.3 241.8 93.7 242.1 95.0 242.4C96.3 242.8 97.7 243.3 99.0 243.8C100.3 244.3 101.7 244.9 103.0 245.5C104.3 246.1 105.7 246.8 107.0 247.6C108.3 248.3 109.7 249.1 111.0 250.0C112.3 250.9 113.7 251.8 115.0 252.7C116.3 253.7 117.7 254.7 119.0 255.8C120.3 256.9 121.7 258.0 123.0 259.2C124.3 260.3 125.7 261.5 127.0 262.8C128.3 264.1 129.7 265.4 131.0 266.7C132.3 268.0 133.7 269.4 135.0 270.8C136.3 272.2 137.7 273.7 139.0 275.2C140.3 276.7 141.7 278.2 143.0 279.7C144.3 281.2 145.7 282.8 147.0 284.3C148.3 285.9 149.7 287.5 151.0 289.0C152.3 290.6 153.7 292.2 155.0 293.8C156.3 295.4 157.7 297.0 159.0 298.6C160.3 300.2 161.7 301.8 163.0 303.3C164.3 304.9 165.7 306.4 167.0 308.0C168.3 309.5 169.7 311.0 171.0 312.5C172.3 314.0 173.7 315.4 175.0 316.8C176.3 318.2 177.7 319.6 179.0 320.9C180.3 322.3 181.7 323.6 183.0 324.8C184.3 326.1 185.7 327.3 187.0 328.5C188.3 329.6 189.7 330.7 191.0 331.8C192.3 332.9 193.7 333.9 195.0 334.9C196.3 335.9 197.7 336.8 199.0 337.7C200.3 338.6 201.7 339.4 203.0 340.2C204.3 341.0 205.7 341.8 207.0 342.5C208.3 343.2 209.7 343.9 211.0 344.6C212.3 345.2 213.7 345.8 215.0 346.4C216.3 347.0 217.7 347.6 219.0 348.1C220.3 348.6 221.7 349.1 223.0 349.5C224.3 350.0 225.7 350.4 227.0 350.8C228.3 351.2 229.7 351.6 231.0 351.9C232.3 352.3 233.7 352.6 235.0 352.9C236.3 353.2 237.7 353.5 239.0 353.8C240.3 354.1 241.7 354.3 243.0 354.6C244.3 354.8 245.7 355.0 247.0 355.2C248.3 355.5 249.7 355.6 251.0 355.8C252.3 356.0 253.7 356.1 255.0 356.3C256.3 356.4 257.7 356.5 259.0 356.6C260.3 356.7 261.7 356.8 263.0 356.8C264.3 356.8 265.7 356.9 267.0 356.9C268.3 356.9 269.7 356.8 271.0 356.8C272.3 356.8 273.7 356.7 275.0 356.6C276.3 356.5 277.7 356.4 279.0 356.3C280.3 356.1 281.7 356.0 283.0 355.8C284.3 355.6 285.7 355.5 287.0 355.2C288.3 355.0 289.7 354.8 291.0 354.6C292.3 354.3 293.7 354.1 295.0 353.8C296.3 353.5 297.7 353.2 299.0 352.9C300.3 352.6 301.7 352.3 303.0 351.9C304.3 351.6 305.7 351.2 307.0 350.8C308.3 350.4 309.7 350.0 311.0 349.5C312.3 349.1 313.7 348.6 315.0 348.1C316.3 347.6 317.7 347.0 319.0 346.4C320.3 345.8 321.7 345.2 323.0 344.6C324.3 343.9 325.7 343.2 327.0 342.5C328.3 341.8 329.7 341.0 331.0 340.2C332.3 339.4 333.7 338.6 335.0 337.7C336.3 336.8 337.7 335.9 339.0 334.9C340.3 333.9 341.7 332.9 343.0 331.8C344.3 330.7 345.7 329.6 347.0 328.5C348.3 327.3 349.7 326.1 351.0 324.8C352.3 323.6 353.7 322.3 355.0 320.9C356.3 319.6 357.7 318.2 359.0 316.8C360.3 315.4 361.7 314.0 363.0 312.5C364.3 311.0 365.7 309.5 367.0 308.0C368.3 306.4 369.7 304.9 371.0 303.3C372.3 301.8 373.7 300.2 375.0 298.6C376.3 297.0 377.7 295.4 379.0 293.8C380.3 292.2 381.7 290.6 383.0 289.0C384.3 287.5 385.7 285.9 387.0 284.3C388.3 282.8 389.7 281.2 391.0 279.7C392.3 278.2 393.7 276.7 395.0 275.2C396.3 273.7 397.7 272.2 399.0 270.8C400.3 269.4 401.7 268.0 403.0 266.7C404.3 265.4 405.7 264.1 407.0 262.8C408.3 261.5 409.7 260.3 411.0 259.2C412.3 258.0 413.7 256.9 415.0 255.8C416.3 254.7 417.7 253.7 419.0 252.7C420.3 251.8 421.7 250.9 423.0 250.0C424.3 249.1 425.7 248.3 427.0 247.6C428.3 246.8 429.7 246.1 431.0 245.5C432.3 244.9 433.7 244.3 435.0 243.8C436.3 243.3 437.7 242.8 439.0 242.4C440.3 242.1 441.7 241.8 443.0 241.5C444.3 241.2 445.7 241.1 447.0 240.9C448.3 240.8 450.3 240.8 451.0 240.8" fill="none" stroke="#00a000" stroke-width="2.4"/>
<path d="M83.0 282.3C83.7 282.3 85.7 282.3 87.0 282.5C88.3 282.7 89.7 282.9 91.0 283.3C92.3 283.6 93.7 284.1 95.0 284.6C96.3 285.1 97.7 285.7 99.0 286.4C100.3 287.1 101.7 287.9 103.0 288.7C104.3 289.6 105.7 290.5 107.0 291.5C108.3 292.5 109.7 293.7 111.0 294.8C112.3 296.0 113.7 297.3 115.0 298.6C116.3 300.0 117.7 301.4 119.0 302.9C120.3 304.3 121.7 305.9 123.0 307.5C124.3 309.0 125.7 310.7 127.0 312.4C128.3 314.1 129.7 315.8 131.0 317.6C132.3 319.3 133.7 321.2 135.0 323.0C136.3 324.8 137.7 326.7 139.0 328.6C140.3 330.4 141.7 332.3 143.0 334.2C144.3 336.1 145.7 338.0 147.0 340.0C148.3 341.9 149.7 343.8 151.0 345.8C152.3 347.8 153.7 349.7 155.0 351.7C156.3 353.7 157.7 355.8 159.0 357.8C160.3 359.7 161.7 361.8 163.0 363.6C164.3 365.5 165.7 367.3 167.0 369.0C168.3 370.7 169.7 372.3 171.0 373.8C172.3 375.3 173.7 376.7 175.0 378.0C176.3 379.4 177.7 380.6 179.0 381.7C180.3 382.8 181.7 383.9 183.0 384.8C184.3 385.8 185.7 386.6 187.0 387.4C188.3 388.2 189.7 388.9 191.0 389.5C192.3 390.1 193.7 390.7 195.0 391.2C196.3 391.7 197.7 392.2 199.0 392.6C200.3 393.0 201.7 393.4 203.0 393.7C204.3 394.0 205.7 394.3 207.0 394.6C208.3 394.9 209.7 395.2 211.0 395.4C212.3 395.6 213.7 395.8 215.0 396.0C216.3 396.2 217.7 396.4 219.0 396.5C220.3 396.7 221.7 396.8 223.0 396.9C224.3 397.1 225.7 397.2 227.0 397.3C228.3 397.4 229.7 397.4 231.0 397.5C232.3 397.6 233.7 397.7 235.0 397.8C236.3 397.8 237.7 397.9 239.0 398.0C240.3 398.0 241.7 398.1 243.0 398.1C244.3 398.2 245.7 398.2 247.0 398.3C248.3 398.3 249.7 398.4 251.0 398.4C252.3 398.4 253.7 398.5 255.0 398.5C256.3 398.5 257.7 398.5 259.0 398.6C260.3 398.6 261.7 398.6 263.0 398.6C264.3 398.6 265.7 398.6 267.0 398.6C268.3 398.6 269.7 398.6 271.0 398.6C272.3 398.6 273.7 398.6 275.0 398.6C276.3 398.5 277.7 398.5 279.0 398.5C280.3 398.5 281.7 398.4 283.0 398.4C284.3 398.4 285.7 398.3 287.0 398.3C288.3 398.2 289.7 398.2 291.0 398.1C292.3 398.1 293.7 398.0 295.0 398.0C296.3 397.9 297.7 397.8 299.0 397.8C300.3 397.7 301.7 397.6 303.0 397.5C304.3 397.4 305.7 397.4 307.0 397.3C308.3 397.2 309.7 397.1 311.0 396.9C312.3 396.8 313.7 396.7 315.0 396.5C316.3 396.4 317.7 396.2 319.0 396.0C320.3 395.8 321.7 395.6 323.0 395.4C324.3 395.2 325.7 394.9 327.0 394.6C328.3 394.3 329.7 394.0 331.0 393.7C332.3 393.4 333.7 393.0 335.0 392.6C336.3 392.2 337.7 391.7 339.0 391.2C340.3 390.7 341.7 390.1 343.0 389.5C344.3 388.9 345.7 388.2 347.0 387.4C348.3 386.6 349.7 385.8 351.0 384.8C352.3 383.9 353.7 382.8 355.0 381.7C356.3 380.6 357.7 379.4 359.0 378.0C360.3 376.7 361.7 375.3 363.0 373.8C364.3 372.3 365.7 370.7 367.0 369.0C368.3 367.3 369.7 365.5 371.0 363.6C372.3 361.8 373.7 359.7 375.0 357.8C376.3 355.8 377.7 353.7 379.0 351.7C380.3 349.7 381.7 347.8 383.0 345.8C384.3 343.8 385.7 341.9 387.0 340.0C388.3 338.0 389.7 336.1 391.0 334.2C392.3 332.3 393.7 330.4 395.0 328.6C396.3 326.7 397.7 324.8 399.0 323.0C400.3 321.2 401.7 319.3 403.0 317.6C404.3 315.8 405.7 314.1 407.0 312.4C408.3 310.7 409.7 309.0 411.0 307.5C412.3 305.9 413.7 304.3 415.0 302.9C416.3 301.4 417.7 300.0 419.0 298.6C420.3 297.3 421.7 296.0 423.0 294.8C424.3 293.7 425.7 292.5 427.0 291.5C428.3 290.5 429.7 289.6 431.0 288.7C432.3 287.9 433.7 287.1 435.0 286.4C436.3 285.7 437.7 285.1 439.0 284.6C440.3 284.1 441.7 283.6 443.0 283.3C444.3 282.9 445.7 282.7 447.0 282.5C448.3 282.3 450.3 282.3 451.0 282.3" fill="none" stroke="#00a000" stroke-width="2.4"/>
<path d="M267.0 376.9C266.3 376.9 264.3 376.9 263.0 376.9C261.7 376.9 260.3 376.8 259.0 376.8C257.7 376.8 256.3 376.7 255.0 376.6C253.7 376.6 252.3 376.5 251.0 376.4C249.7 376.3 248.3 376.2 247.0 376.0C245.7 375.9 244.3 375.8 243.0 375.6C241.7 375.4 240.3 375.2 239.0 375.0C237.7 374.8 236.3 374.6 235.0 374.3C233.7 374.1 232.3 373.8 231.0 373.5C229.7 373.2 228.3 372.9 227.0 372.5C225.7 372.2 224.3 371.8 223.0 371.4C221.7 371.0 220.3 370.6 219.0 370.1C217.7 369.6 216.3 369.2 215.0 368.6C213.7 368.1 212.3 367.6 211.0 367.0C209.7 366.4 208.3 365.8 207.0 365.1C205.7 364.5 204.3 363.8 203.0 363.0C201.7 362.3 200.3 361.6 199.0 360.8C197.7 360.0 196.3 359.1 195.0 358.2C193.7 357.4 192.3 356.4 191.0 355.5C189.7 354.5 188.3 353.5 187.0 352.5C185.7 351.4 184.3 350.3 183.0 349.2C181.7 348.1 180.3 346.9 179.0 345.7C177.7 344.4 176.3 343.2 175.0 341.8C173.7 340.5 172.3 339.2 171.0 337.8C169.7 336.4 168.3 334.9 167.0 333.4C165.7 332.0 164.3 330.5 163.0 328.9C161.7 327.4 160.3 325.9 159.0 324.3C157.7 322.7 156.3 321.1 155.0 319.5C153.7 317.9 152.3 316.3 151.0 314.7C149.7 313.0 148.3 311.4 147.0 309.8C145.7 308.1 144.3 306.5 143.0 304.9C141.7 303.2 140.3 301.6 139.0 300.0C137.7 298.4 136.3 296.8 135.0 295.2C133.7 293.7 132.3 292.1 131.0 290.6C129.7 289.1 128.3 287.6 127.0 286.2C125.7 284.8 124.3 283.4 123.0 282.0C121.7 280.7 120.3 279.4 119.0 278.2C117.7 276.9 116.3 275.7 115.0 274.6C113.7 273.5 112.3 272.4 111.0 271.4C109.7 270.5 108.3 269.5 107.0 268.7C105.7 267.9 104.3 267.1 103.0 266.4C101.7 265.7 100.3 265.0 99.0 264.5C97.7 263.9 96.3 263.4 95.0 263.0C93.7 262.6 92.3 262.2 91.0 261.9C89.7 261.7 88.3 261.4 87.0 261.3C85.7 261.2 83.7 261.1 83.0 261.1" fill="none" stroke="#00a000" stroke-width="2.4" stroke-dasharray="3.3 3.2" stroke-dashoffset="1.65"/>
<path d="M267.0 376.9C267.7 376.9 269.7 376.9 271.0 376.9C272.3 376.9 273.7 376.8 275.0 376.8C276.3 376.8 277.7 376.7 279.0 376.6C280.3 376.6 281.7 376.5 283.0 376.4C284.3 376.3 285.7 376.2 287.0 376.0C288.3 375.9 289.7 375.8 291.0 375.6C292.3 375.4 293.7 375.2 295.0 375.0C296.3 374.8 297.7 374.6 299.0 374.3C300.3 374.1 301.7 373.8 303.0 373.5C304.3 373.2 305.7 372.9 307.0 372.5C308.3 372.2 309.7 371.8 311.0 371.4C312.3 371.0 313.7 370.6 315.0 370.1C316.3 369.6 317.7 369.2 319.0 368.6C320.3 368.1 321.7 367.6 323.0 367.0C324.3 366.4 325.7 365.8 327.0 365.1C328.3 364.5 329.7 363.8 331.0 363.0C332.3 362.3 333.7 361.6 335.0 360.8C336.3 360.0 337.7 359.1 339.0 358.2C340.3 357.4 341.7 356.4 343.0 355.5C344.3 354.5 345.7 353.5 347.0 352.5C348.3 351.4 349.7 350.3 351.0 349.2C352.3 348.1 353.7 346.9 355.0 345.7C356.3 344.4 357.7 343.2 359.0 341.8C360.3 340.5 361.7 339.2 363.0 337.8C364.3 336.4 365.7 334.9 367.0 333.4C368.3 332.0 369.7 330.5 371.0 328.9C372.3 327.4 373.7 325.9 375.0 324.3C376.3 322.7 377.7 321.1 379.0 319.5C380.3 317.9 381.7 316.3 383.0 314.7C384.3 313.0 385.7 311.4 387.0 309.8C388.3 308.1 389.7 306.5 391.0 304.9C392.3 303.2 393.7 301.6 395.0 300.0C396.3 298.4 397.7 296.8 399.0 295.2C400.3 293.7 401.7 292.1 403.0 290.6C404.3 289.1 405.7 287.6 407.0 286.2C408.3 284.8 409.7 283.4 411.0 282.0C412.3 280.7 413.7 279.4 415.0 278.2C416.3 276.9 417.7 275.7 419.0 274.6C420.3 273.5 421.7 272.4 423.0 271.4C424.3 270.5 425.7 269.5 427.0 268.7C428.3 267.9 429.7 267.1 431.0 266.4C432.3 265.7 433.7 265.0 435.0 264.5C436.3 263.9 437.7 263.4 439.0 263.0C440.3 262.6 441.7 262.2 443.0 261.9C444.3 261.7 445.7 261.4 447.0 261.3C448.3 261.2 450.3 261.1 451.0 261.1" fill="none" stroke="#00a000" stroke-width="2.4" stroke-dasharray="3.3 3.2" stroke-dashoffset="1.65"/>
</g>
<path d="M83.1 35.2V222.3M83.1 369.1V405.5" stroke="#0000a6" stroke-width="2.4" fill="none"/>
<path d="M451.0 35.2V222.3M451.0 369.1V405.5" stroke="#0000a6" stroke-width="2.4" fill="none"/>
<path d="M83.1 240.7V282.2" stroke="#00a000" stroke-width="2.6" fill="none"/>
<path d="M451.0 240.7V282.2" stroke="#00a000" stroke-width="2.6" fill="none"/>
<path d="M82.2 36.5H451.9M82.2 404.2H451.9" stroke="#0c0c0c" stroke-width="1.3" fill="none"/>
<path d="M83.1 36.5V404.2M451.0 36.5V404.2" stroke="#0c0c0c" stroke-width="1.8" fill="none"/>
<path d="M83.10 404.2v-5.2M83.10 36.5v5.2M98.43 404.2v-2.8M98.43 36.5v2.8M113.76 404.2v-2.8M113.76 36.5v2.8M129.09 404.2v-2.8M129.09 36.5v2.8M144.42 404.2v-5.2M144.42 36.5v5.2M159.75 404.2v-2.8M159.75 36.5v2.8M175.07 404.2v-2.8M175.07 36.5v2.8M190.40 404.2v-2.8M190.40 36.5v2.8M205.73 404.2v-5.2M205.73 36.5v5.2M221.06 404.2v-2.8M221.06 36.5v2.8M236.39 404.2v-2.8M236.39 36.5v2.8M251.72 404.2v-2.8M251.72 36.5v2.8M267.05 404.2v-5.2M267.05 36.5v5.2M282.38 404.2v-2.8M282.38 36.5v2.8M297.71 404.2v-2.8M297.71 36.5v2.8M313.04 404.2v-2.8M313.04 36.5v2.8M328.37 404.2v-5.2M328.37 36.5v5.2M343.70 404.2v-2.8M343.70 36.5v2.8M359.02 404.2v-2.8M359.02 36.5v2.8M374.35 404.2v-2.8M374.35 36.5v2.8M389.68 404.2v-5.2M389.68 36.5v5.2M405.01 404.2v-2.8M405.01 36.5v2.8M420.34 404.2v-2.8M420.34 36.5v2.8M435.67 404.2v-2.8M435.67 36.5v2.8M451.00 404.2v-5.2M451.00 36.5v5.2M83.1 404.20h5.2M451.0 404.20h-5.2M83.1 385.81h2.8M451.0 385.81h-2.8M83.1 367.43h2.8M451.0 367.43h-2.8M83.1 349.05h2.8M451.0 349.05h-2.8M83.1 330.66h5.2M451.0 330.66h-5.2M83.1 312.27h2.8M451.0 312.27h-2.8M83.1 293.89h2.8M451.0 293.89h-2.8M83.1 275.50h2.8M451.0 275.50h-2.8M83.1 257.12h5.2M451.0 257.12h-5.2M83.1 238.74h2.8M451.0 238.74h-2.8M83.1 220.35h2.8M451.0 220.35h-2.8M83.1 201.97h2.8M451.0 201.97h-2.8M83.1 183.58h5.2M451.0 183.58h-5.2M83.1 165.20h2.8M451.0 165.20h-2.8M83.1 146.81h2.8M451.0 146.81h-2.8M83.1 128.43h2.8M451.0 128.43h-2.8M83.1 110.04h5.2M451.0 110.04h-5.2M83.1 91.66h2.8M451.0 91.66h-2.8M83.1 73.27h2.8M451.0 73.27h-2.8M83.1 54.88h2.8M451.0 54.88h-2.8M83.1 36.50h5.2M451.0 36.50h-5.2" stroke="#0c0c0c" stroke-width="1.15" fill="none"/>
<text x="65.17" y="422.20" font-family="'Liberation Sans', Arial, sans-serif" font-size="14.40" fill="#000" textLength="35.70" lengthAdjust="spacingAndGlyphs" stroke="#000" stroke-width="0.15">−180</text>
<text x="126.49" y="422.20" font-family="'Liberation Sans', Arial, sans-serif" font-size="14.40" fill="#000" textLength="35.70" lengthAdjust="spacingAndGlyphs" stroke="#000" stroke-width="0.15">−120</text>
<text x="192.57" y="422.20" font-family="'Liberation Sans', Arial, sans-serif" font-size="14.40" fill="#000" textLength="26.16" lengthAdjust="spacingAndGlyphs" stroke="#000" stroke-width="0.15">−60</text>
<text x="263.05" y="422.20" font-family="'Liberation Sans', Arial, sans-serif" font-size="14.40" fill="#000" textLength="8.01" lengthAdjust="spacingAndGlyphs" stroke="#000" stroke-width="0.15">0</text>
<text x="319.35" y="422.20" font-family="'Liberation Sans', Arial, sans-serif" font-size="14.40" fill="#000" textLength="17.84" lengthAdjust="spacingAndGlyphs" stroke="#000" stroke-width="0.15">60</text>
<text x="376.67" y="422.20" font-family="'Liberation Sans', Arial, sans-serif" font-size="14.40" fill="#000" textLength="25.46" lengthAdjust="spacingAndGlyphs" stroke="#000" stroke-width="0.15">120</text>
<text x="437.88" y="422.20" font-family="'Liberation Sans', Arial, sans-serif" font-size="14.40" fill="#000" textLength="25.67" lengthAdjust="spacingAndGlyphs" stroke="#000" stroke-width="0.15">180</text>
<text x="48.28" y="409.35" font-family="'Liberation Sans', Arial, sans-serif" font-size="14.40" fill="#000" textLength="30.73" lengthAdjust="spacingAndGlyphs" stroke="#000" stroke-width="0.15">0.00</text>
<text x="48.28" y="335.81" font-family="'Liberation Sans', Arial, sans-serif" font-size="14.40" fill="#000" textLength="30.92" lengthAdjust="spacingAndGlyphs" stroke="#000" stroke-width="0.15">0.02</text>
<text x="48.29" y="262.27" font-family="'Liberation Sans', Arial, sans-serif" font-size="14.40" fill="#000" textLength="30.57" lengthAdjust="spacingAndGlyphs" stroke="#000" stroke-width="0.15">0.04</text>
<text x="48.28" y="188.73" font-family="'Liberation Sans', Arial, sans-serif" font-size="14.40" fill="#000" textLength="30.81" lengthAdjust="spacingAndGlyphs" stroke="#000" stroke-width="0.15">0.06</text>
<text x="48.28" y="115.19" font-family="'Liberation Sans', Arial, sans-serif" font-size="14.40" fill="#000" textLength="30.81" lengthAdjust="spacingAndGlyphs" stroke="#000" stroke-width="0.15">0.08</text>
<text x="48.28" y="41.65" font-family="'Liberation Sans', Arial, sans-serif" font-size="14.40" fill="#000" textLength="30.73" lengthAdjust="spacingAndGlyphs" stroke="#000" stroke-width="0.15">0.10</text>
<text x="250.92" y="395.10" font-family="'Liberation Serif', serif" font-size="23.30" fill="#151515" textLength="31.65" lengthAdjust="spacingAndGlyphs">SM</text>
<polygon points="267.0,397.5 268.7,402.5 273.9,402.5 269.8,405.7 271.3,410.7 267.0,407.7 262.7,410.7 264.2,405.7 260.1,402.5 265.3,402.5" fill="#000"/>
<text x="224.18" y="18.81" font-family="'Liberation Serif', serif" font-size="23.00" font-style="italic" fill="#151515" textLength="15.63" lengthAdjust="spacingAndGlyphs">C</text>
<text x="241.28" y="9.50" font-family="'Liberation Serif', serif" font-size="12.56" font-style="italic" fill="#151515" textLength="7.20" lengthAdjust="spacingAndGlyphs">e</text>
<text x="240.78" y="23.92" font-family="'Liberation Serif', serif" font-size="14.88" font-style="italic" fill="#151515" textLength="11.10" lengthAdjust="spacingAndGlyphs">P</text>
<text x="281.07" y="18.81" font-family="'Liberation Serif', serif" font-size="23.00" font-style="italic" fill="#151515" textLength="15.73" lengthAdjust="spacingAndGlyphs">C</text>
<text x="298.60" y="7.98" font-family="'Liberation Serif', serif" font-size="13.73" font-style="italic" fill="#151515" textLength="9.13" lengthAdjust="spacingAndGlyphs">μ</text>
<text x="297.48" y="24.12" font-family="'Liberation Serif', serif" font-size="14.88" font-style="italic" fill="#151515" textLength="11.31" lengthAdjust="spacingAndGlyphs">P</text>
<text x="257.93" y="20.84" font-family="'Liberation Serif', serif" font-size="22.40" fill="#2a2a2a" textLength="17.82" lengthAdjust="spacingAndGlyphs">=</text>
<text x="3.16" y="226.09" font-family="'Liberation Serif', serif" font-size="24.34" font-style="italic" fill="#151515" textLength="14.66" lengthAdjust="spacingAndGlyphs">C</text>
<text x="21.00" y="215.85" font-family="'Liberation Serif', serif" font-size="13.88" font-style="italic" fill="#151515" textLength="9.13" lengthAdjust="spacingAndGlyphs">μ</text>
<text x="19.88" y="231.82" font-family="'Liberation Serif', serif" font-size="14.26" font-style="italic" fill="#151515" textLength="11.10" lengthAdjust="spacingAndGlyphs">P</text>
<text x="-1.59" y="226.00" font-family="'Liberation Serif', serif" font-size="24.07" fill="#151515" textLength="4.22" lengthAdjust="spacingAndGlyphs">|</text>
<text x="32.36" y="226.00" font-family="'Liberation Serif', serif" font-size="24.07" fill="#151515" textLength="4.22" lengthAdjust="spacingAndGlyphs">|</text>
<text x="229.24" y="454.75" font-family="'Liberation Serif', serif" font-size="21.00" font-style="italic" fill="#151515" textLength="12.13" lengthAdjust="spacingAndGlyphs">ϕ</text>
<text x="242.50" y="447.61" font-family="'Liberation Serif', serif" font-size="13.58" font-style="italic" fill="#151515" textLength="8.38" lengthAdjust="spacingAndGlyphs">μ</text>
<text x="241.88" y="461.72" font-family="'Liberation Serif', serif" font-size="14.88" font-style="italic" fill="#151515" textLength="11.41" lengthAdjust="spacingAndGlyphs">P</text>
<text x="262.18" y="455.40" font-family="'Liberation Serif', serif" font-size="22.80" fill="#151515" textLength="42.53" lengthAdjust="spacingAndGlyphs">[deg]</text>
<rect x="485.25" y="194.85" width="12.1" height="11.5" fill="#e6f0fc" stroke="#b4b9ee" stroke-width="1.25"/>
<rect x="485.0" y="249.1" width="12.4" height="11.4" fill="#e6fae5" stroke="#b0e6af" stroke-width="1.25"/>
<text x="510.42" y="206.82" font-family="'Liberation Serif', serif" font-size="23.12" font-style="italic" fill="#151515" textLength="15.42" lengthAdjust="spacingAndGlyphs">R</text>
<text x="525.61" y="197.21" font-family="'Liberation Serif', serif" font-size="11.73" font-style="italic" fill="#151515" textLength="6.75" lengthAdjust="spacingAndGlyphs">e</text>
<text x="525.20" y="211.98" font-family="'Liberation Serif', serif" font-size="13.73" font-style="italic" fill="#151515" textLength="9.23" lengthAdjust="spacingAndGlyphs">μ</text>
<text x="507.13" y="259.93" font-family="'DejaVu Math TeX Gyre', 'DejaVu Sans', serif" font-size="19.36" fill="#151515" textLength="21.64" lengthAdjust="spacingAndGlyphs">ℛ</text>
<text x="527.90" y="251.25" font-family="'Liberation Serif', serif" font-size="13.44" font-style="italic" fill="#151515" textLength="8.48" lengthAdjust="spacingAndGlyphs">μ</text>
<text x="527.69" y="271.42" font-family="'Liberation Serif', serif" font-size="19.78" fill="#151515" textLength="12.29" lengthAdjust="spacingAndGlyphs">&lt;</text>
<text x="539.57" y="268.50" font-family="'Liberation Serif', serif" font-size="13.60" font-style="italic" fill="#151515" textLength="7.32" lengthAdjust="spacingAndGlyphs">e</text>
<text x="547.46" y="268.50" font-family="'Liberation Serif', serif" font-size="13.60" fill="#151515" textLength="2.75" lengthAdjust="spacingAndGlyphs">,</text>
<text x="551.00" y="268.50" font-family="'Liberation Serif', serif" font-size="13.60" font-style="italic" fill="#151515" textLength="9.55" lengthAdjust="spacingAndGlyphs">μ</text>
<text x="560.00" y="271.42" font-family="'Liberation Serif', serif" font-size="19.78" fill="#151515" textLength="12.05" lengthAdjust="spacingAndGlyphs">&gt;</text>
<text x="572.41" y="268.50" font-family="'Liberation Serif', serif" font-size="13.60" fill="#151515" textLength="3.05" lengthAdjust="spacingAndGlyphs">;</text>
<text x="576.50" y="268.50" font-family="'Liberation Serif', serif" font-size="13.60" font-style="italic" fill="#151515" textLength="7.92" lengthAdjust="spacingAndGlyphs">ρ</text>
<text x="592.40" y="269.64" font-family="'Liberation Serif', serif" font-size="17.81" fill="#151515" textLength="3.05" lengthAdjust="spacingAndGlyphs">[</text>
<text x="595.52" y="268.50" font-family="'Liberation Serif', serif" font-size="13.60" font-style="italic" fill="#151515" textLength="6.92" lengthAdjust="spacingAndGlyphs">q</text>
<text x="602.98" y="264.02" font-family="'Liberation Serif', serif" font-size="10.18" fill="#151515" textLength="6.79" lengthAdjust="spacingAndGlyphs">2</text>
<text x="610.72" y="270.52" font-family="'Liberation Serif', serif" font-size="20.65" fill="#151515" textLength="11.37" lengthAdjust="spacingAndGlyphs">≤</text>
<text x="622.87" y="268.50" font-family="'Liberation Serif', serif" font-size="13.60" fill="#151515" textLength="14.87" lengthAdjust="spacingAndGlyphs">12</text>
<text x="638.23" y="269.64" font-family="'Liberation Serif', serif" font-size="17.81" fill="#151515" textLength="3.20" lengthAdjust="spacingAndGlyphs">]</text>
<text x="649.38" y="268.50" font-family="'Liberation Serif', serif" font-size="14.30" fill="#151515" textLength="27.81" lengthAdjust="spacingAndGlyphs">GeV</text>
<text x="678.22" y="262.72" font-family="'Liberation Serif', serif" font-size="10.63" fill="#151515" textLength="7.53" lengthAdjust="spacingAndGlyphs">2</text>
</svg>
</body></html>
